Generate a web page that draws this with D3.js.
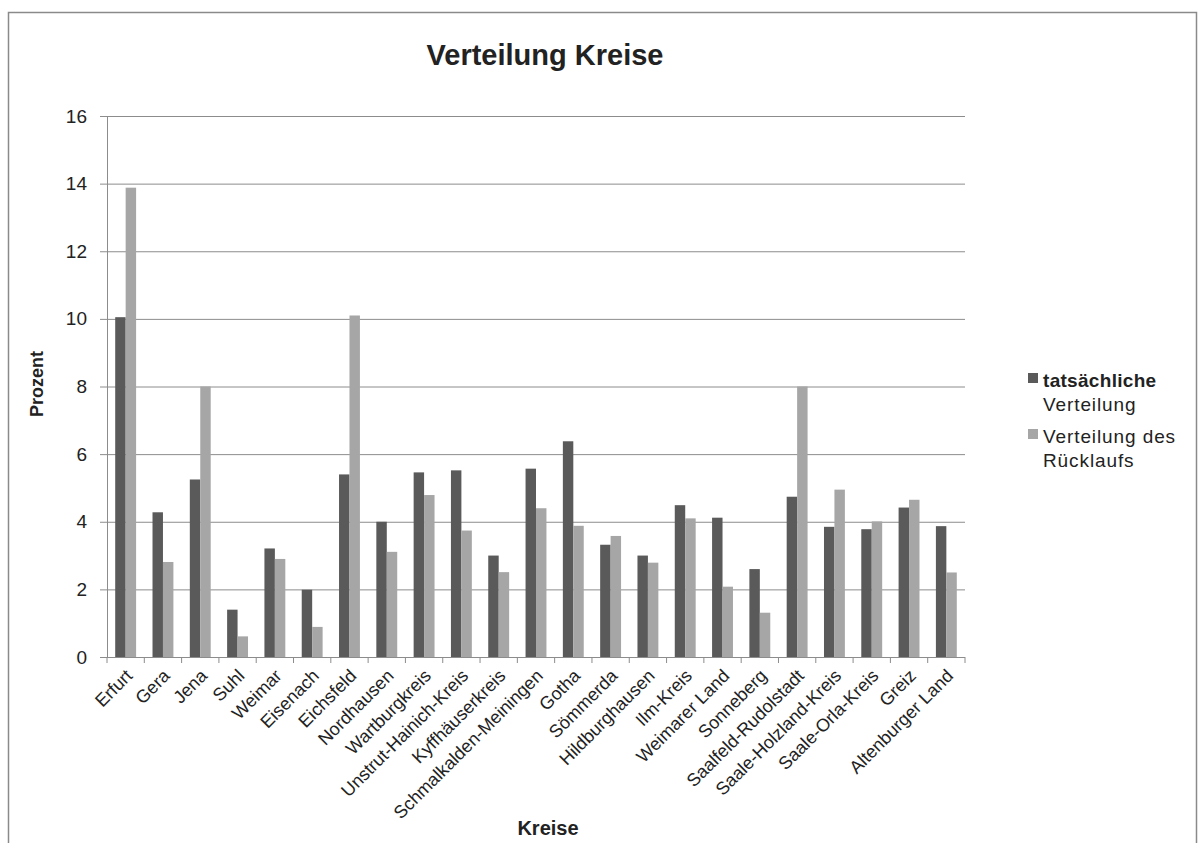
<!DOCTYPE html>
<html>
<head>
<meta charset="utf-8">
<script src="https://d3js.org/d3.v7.min.js"></script>
<style>
  body { margin: 0; background: #fff; }
  text { font-family: "Liberation Sans", Arial, sans-serif; fill: #222; }
</style>
</head>
<body>
<div class="bar-chart"></div>
<script>
// Frame dimensions
let FRAME_HEIGHT = 843;
let FRAME_WIDTH = 1203;
let MARGINS = {left: 107, right: 238, top: 116, bottom: 186};

const PLOT_WIDTH = FRAME_WIDTH - MARGINS.left - MARGINS.right;
const PLOT_HEIGHT = FRAME_HEIGHT - MARGINS.top - MARGINS.bottom;

// data
const kreise = ["Erfurt", "Gera", "Jena", "Suhl", "Weimar", "Eisenach", "Eichsfeld",
  "Nordhausen", "Wartburgkreis", "Unstrut-Hainich-Kreis", "Kyffhäuserkreis",
  "Schmalkalden-Meiningen", "Gotha", "Sömmerda", "Hildburghausen", "Ilm-Kreis",
  "Weimarer Land", "Sonneberg", "Saalfeld-Rudolstadt", "Saale-Holzland-Kreis",
  "Saale-Orla-Kreis", "Greiz", "Altenburger Land"];
const tatsaechlich = [10.05, 4.28, 5.25, 1.4, 3.21, 1.99, 5.4, 4.0, 5.46, 5.52, 3.0,
  5.57, 6.38, 3.32, 3.0, 4.49, 4.12, 2.6, 4.74, 3.85, 3.78, 4.42, 3.87];
const ruecklauf = [13.88, 2.81, 8.0, 0.61, 2.9, 0.89, 10.1, 3.11, 4.79, 3.74, 2.51,
  4.4, 3.88, 3.58, 2.79, 4.1, 2.08, 1.31, 8.0, 4.95, 4.01, 4.65, 2.5];
const series = ["tatsaechlich", "ruecklauf"];
const seriesNames = [["tatsächliche", "Verteilung"], ["Verteilung des", "Rücklaufs"]];
const seriesColors = ["#5a5a5a", "#a6a6a6"];
const yTicks = [0, 2, 4, 6, 8, 10, 12, 14, 16];

// rows for the grouped bars
let rows = kreise.map((k, i) => ({kreis: k, tatsaechlich: tatsaechlich[i], ruecklauf: ruecklauf[i]}));

let FRAME = d3.select(".bar-chart")
  .append("svg")
  .attr("width", FRAME_WIDTH)
  .attr("height", FRAME_HEIGHT);

// outer frame of the chart
FRAME.append("rect")
  .attr("x", 8.5).attr("y", 12.5)
  .attr("width", 1188).attr("height", 840)
  .attr("fill", "none")
  .attr("stroke", "#8a8a8a")
  .attr("stroke-width", 1.5);

const xScale = d3.scaleBand().domain(kreise).range([0, PLOT_WIDTH]).paddingInner(0).paddingOuter(0);
const xInner = d3.scaleBand().domain(series).range([xScale.bandwidth() * 0.22, xScale.bandwidth() * 0.78]);
const yScale = d3.scaleLinear().domain([0, 16]).range([PLOT_HEIGHT, 0]);

let plot = FRAME.append("g")
  .attr("transform", "translate(" + MARGINS.left + "," + MARGINS.top + ")");

// gridlines
plot.append("g")
  .selectAll("line")
  .data(yTicks.filter(d => d > 0))
  .enter().append("line")
  .attr("x1", 0).attr("x2", PLOT_WIDTH)
  .attr("y1", d => yScale(d) + 0.5).attr("y2", d => yScale(d) + 0.5)
  .attr("stroke", "#8c8c8c")
  .attr("stroke-width", 1);

// bars
plot.append("g")
  .selectAll("g")
  .data(rows)
  .enter().append("g")
  .attr("transform", d => "translate(" + xScale(d.kreis) + ",0)")
  .selectAll("rect")
  .data(d => series.map((s, i) => ({key: s, value: d[s], color: seriesColors[i]})))
  .enter().append("rect")
  .attr("x", d => xInner(d.key))
  .attr("y", d => yScale(d.value))
  .attr("width", xInner.bandwidth())
  .attr("height", d => PLOT_HEIGHT - yScale(d.value))
  .attr("fill", d => d.color);

// y-axis
let yAxis = plot.append("g")
  .call(d3.axisLeft(yScale).tickValues(yTicks).tickSize(7).tickPadding(13));
yAxis.select(".domain").attr("stroke", "#8c8c8c");
yAxis.selectAll(".tick line").attr("stroke", "#8c8c8c");
yAxis.selectAll("text").attr("font-size", "19px").attr("fill", "#222");

// x-axis, ticks between categories
let xAxisG = plot.append("g").attr("transform", "translate(0," + PLOT_HEIGHT + ")");
xAxisG.append("line")
  .attr("x1", 0).attr("x2", PLOT_WIDTH)
  .attr("y1", 0.5).attr("y2", 0.5)
  .attr("stroke", "#8c8c8c");
xAxisG.selectAll(".sep")
  .data(d3.range(kreise.length + 1))
  .enter().append("line")
  .attr("x1", i => i * xScale.bandwidth()).attr("x2", i => i * xScale.bandwidth())
  .attr("y1", 0).attr("y2", 6)
  .attr("stroke", "#8c8c8c");
xAxisG.selectAll(".lbl")
  .data(kreise)
  .enter().append("text")
  .attr("transform", d => "translate(" + (xScale(d) + xScale.bandwidth() / 2 + 8) + ",20) rotate(-45)")
  .attr("text-anchor", "end")
  .attr("font-size", "18px")
  .text(d => d);

// title and axis titles
FRAME.append("text")
  .attr("x", 545).attr("y", 65)
  .attr("text-anchor", "middle")
  .attr("font-size", "29px")
  .attr("font-weight", "bold")
  .text("Verteilung Kreise");

FRAME.append("text")
  .attr("transform", "translate(43,384) rotate(-90)")
  .attr("text-anchor", "middle")
  .attr("font-size", "18px")
  .attr("font-weight", "bold")
  .text("Prozent");

FRAME.append("text")
  .attr("x", 548).attr("y", 835)
  .attr("text-anchor", "middle")
  .attr("font-size", "20px")
  .attr("font-weight", "bold")
  .text("Kreise");

// legend
let legend = FRAME.append("g").attr("transform", "translate(1028,378)");
seriesNames.forEach(function(lines, i) {
  let item = legend.append("g").attr("transform", "translate(0," + (i * 56) + ")");
  item.append("rect")
    .attr("x", 0).attr("y", -5)
    .attr("width", 10).attr("height", 10)
    .attr("fill", seriesColors[i]);
  lines.forEach(function(t, j) {
    item.append("text")
      .attr("x", 15).attr("y", 9 + j * 24)
      .attr("font-size", "19px")
      .attr("letter-spacing", i == 0 && j == 0 ? "0.3px" : "0.9px")
      .attr("font-weight", (i == 0 && j == 0) ? "bold" : "normal")
      .text(t);
  });
});
</script>
</body>
</html>
